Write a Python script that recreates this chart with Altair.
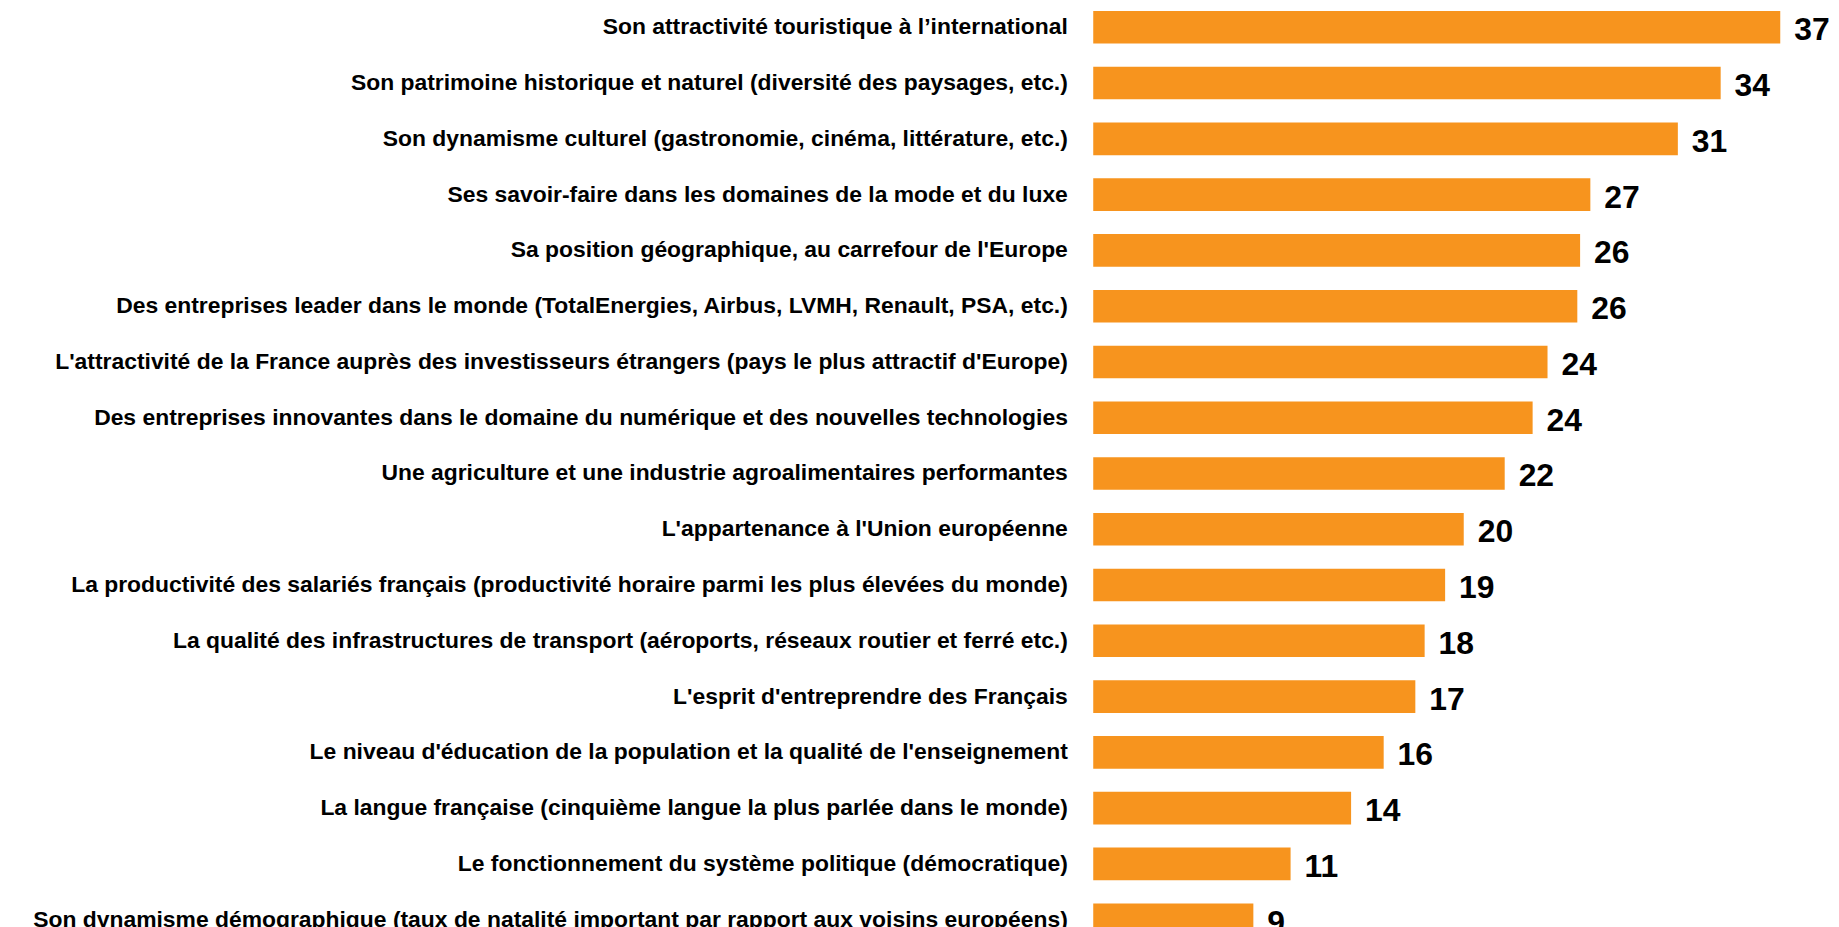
import altair as alt
import pandas as pd

categories = [
    "Son attractivité touristique à l’international",
    "Son patrimoine historique et naturel (diversité des paysages, etc.)",
    "Son dynamisme culturel (gastronomie, cinéma, littérature, etc.)",
    "Ses savoir-faire dans les domaines de la mode et du luxe",
    "Sa position géographique, au carrefour de l'Europe",
    "Des entreprises leader dans le monde (TotalEnergies, Airbus, LVMH, Renault, PSA, etc.)",
    "L'attractivité de la France auprès des investisseurs étrangers (pays le plus attractif d'Europe)",
    "Des entreprises innovantes dans le domaine du numérique et des nouvelles technologies",
    "Une agriculture et une industrie agroalimentaires performantes",
    "L'appartenance à l'Union européenne",
    "La productivité des salariés français (productivité horaire parmi les plus élevées du monde)",
    "La qualité des infrastructures de transport (aéroports, réseaux routier et ferré etc.)",
    "L'esprit d'entreprendre des Français",
    "Le niveau d'éducation de la population et la qualité de l'enseignement",
    "La langue française (cinquième langue la plus parlée dans le monde)",
    "Le fonctionnement du système politique (démocratique)",
    "Son dynamisme démographique (taux de natalité important par rapport aux voisins européens)",
]

values = [36.9, 33.7, 31.4, 26.7, 26.15, 26.0, 24.4, 23.6, 22.1, 19.9,
          18.9, 17.8, 17.3, 15.6, 13.85, 10.6, 8.6]

labels = [37, 34, 31, 27, 26, 26, 24, 24, 22, 20, 19, 18, 17, 16, 14, 11, 9]

df = pd.DataFrame({"categorie": categories, "valeur": values, "etiquette": labels})

y_enc = alt.Y(
    "categorie:N",
    sort=categories,
    title=None,
    scale=alt.Scale(range=[0, 929], paddingInner=0.416, paddingOuter=0),
    axis=alt.Axis(
        domain=False,
        ticks=False,
        grid=False,
        labelFont="Liberation Sans",
        labelFontWeight="bold",
        labelFontSize=23,
        labelColor="#000000",
        labelPadding=26,
        labelLimit=2000,
    ),
)
x_enc = alt.X("valeur:Q", scale=alt.Scale(domain=[0, 40], range=[0, 748]), axis=None)

bars = alt.Chart(df).mark_bar(color="#F7941E").encode(x=x_enc, y=y_enc)

text = alt.Chart(df).mark_text(
    align="left",
    baseline="middle",
    dx=14,
    dy=3,
    font="Liberation Sans",
    fontWeight="bold",
    fontSize=32,
    color="#000000",
).encode(x=x_enc, y=y_enc, text="etiquette:Q")

chart = (
    (bars + text)
    .properties(
        width=741,
        height=929,
        autosize=alt.AutoSizeParams(type="none"),
        padding={"left": 1090, "top": 1, "right": 0, "bottom": 0},
        background="white",
    )
    .configure_view(stroke=None)
)

chart.save("out.html", embed_options={"renderer": "svg", "actions": False})
